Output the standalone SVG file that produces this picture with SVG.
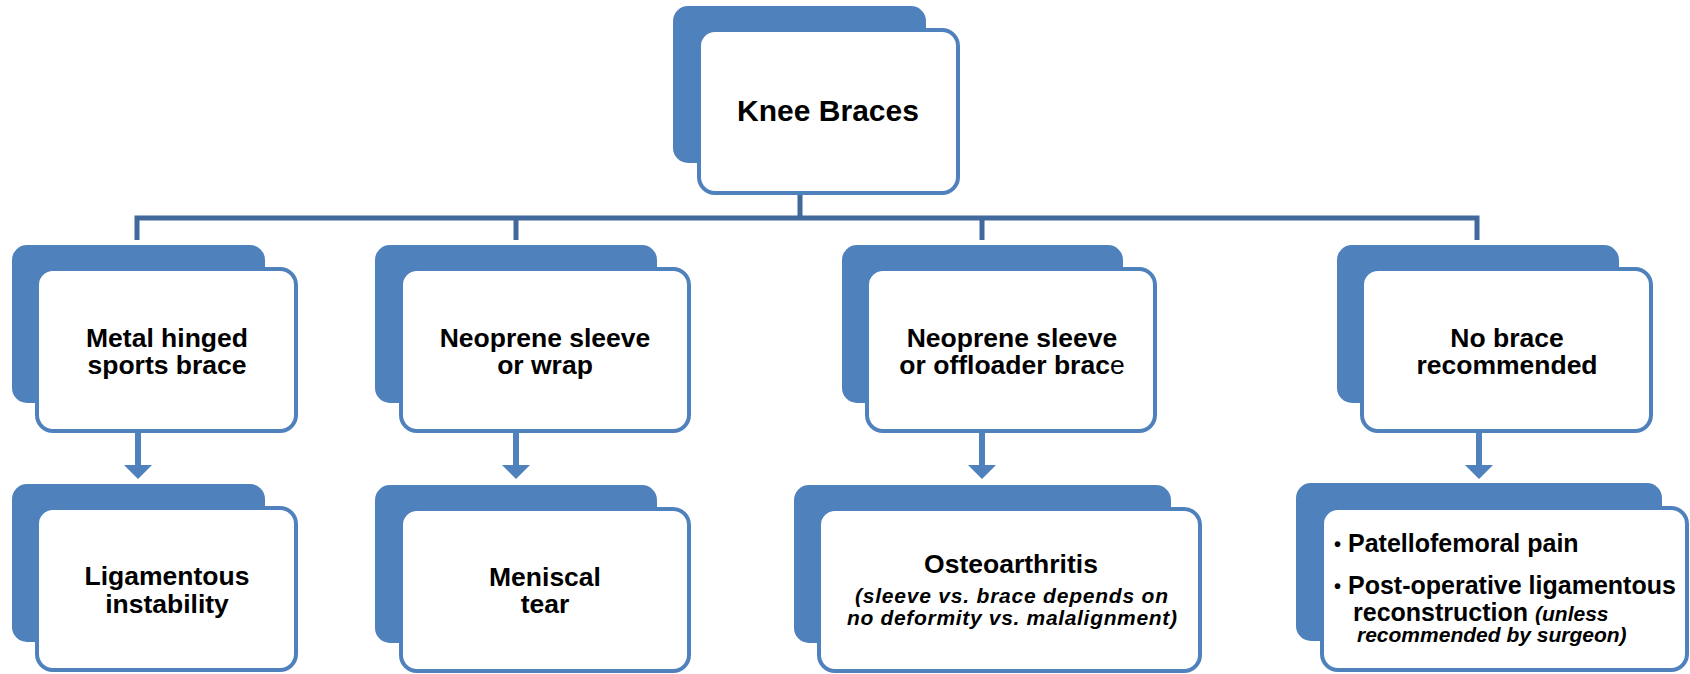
<svg xmlns="http://www.w3.org/2000/svg" width="1690" height="674" viewBox="0 0 1690 674">
<style>
.back{fill:#4f81bd;}
.front{fill:#ffffff;stroke:#4f81bd;stroke-width:4;}
.lbl{font-family:"Liberation Sans",Arial,sans-serif;font-weight:bold;font-size:26.5px;fill:#000;text-anchor:middle;}
.bl{font-family:"Liberation Sans",Arial,sans-serif;font-weight:bold;font-size:25px;fill:#000;text-anchor:start;}
.bul{font-family:"Liberation Sans",Arial,sans-serif;font-weight:bold;font-size:20px;fill:#000;text-anchor:start;}
.it{font-family:"Liberation Sans",Arial,sans-serif;font-weight:bold;font-style:italic;font-size:21px;fill:#000;}
.tree{fill:none;stroke:#41699b;stroke-width:5;}
.arr{stroke:#4f81bd;stroke-width:6;fill:none;}
.head{fill:#4f81bd;}
</style>
<rect width="1690" height="674" fill="#ffffff"/>
<g id="connectors">
<path class="tree" d="M800,195 V218 M137,240 V218 H1477 V240 M516,218 V240 M982,218 V240"/>
<path class="arr" d="M138,433 V466 M516,433 V466 M982,433 V466 M1479,433 V466"/>
<path class="head" d="M124,465 H152 L138,479 Z M502,465 H530 L516,479 Z M968,465 H996 L982,479 Z M1465,465 H1493 L1479,479 Z"/>
</g>
<g id="node-knee-braces">
<rect class="back" x="673" y="6" width="253" height="157" rx="15"/>
<rect class="front" x="699" y="30" width="259" height="163" rx="16"/>
<text class="lbl" x="828" y="121" style="font-size:30px">Knee Braces</text>
</g>
<g id="node-metal-hinged">
<rect class="back" x="12" y="245" width="253" height="158" rx="15"/>
<rect class="front" x="37" y="269" width="259" height="162" rx="16"/>
<text class="lbl" x="167" y="347">Metal hinged</text>
<text class="lbl" x="167" y="374">sports brace</text>
</g>
<g id="node-neoprene-wrap">
<rect class="back" x="375" y="245" width="282" height="158" rx="15"/>
<rect class="front" x="401" y="269" width="288" height="162" rx="16"/>
<text class="lbl" x="545" y="347">Neoprene sleeve</text>
<text class="lbl" x="545" y="374">or wrap</text>
</g>
<g id="node-neoprene-offloader">
<rect class="back" x="842" y="245" width="281" height="158" rx="15"/>
<rect class="front" x="867" y="269" width="288" height="162" rx="16"/>
<text class="lbl" x="1012" y="347">Neoprene sleeve</text>
<text class="lbl" x="1012" y="374">or offloader brac<tspan style="font-weight:normal">e</tspan></text>
</g>
<g id="node-no-brace">
<rect class="back" x="1337" y="245" width="282" height="158" rx="15"/>
<rect class="front" x="1362" y="269" width="289" height="162" rx="16"/>
<text class="lbl" x="1507" y="347">No brace</text>
<text class="lbl" x="1507" y="374">recommended</text>
</g>
<g id="node-ligamentous">
<rect class="back" x="12" y="484" width="253" height="158" rx="15"/>
<rect class="front" x="37" y="508" width="259" height="162" rx="16"/>
<text class="lbl" x="167" y="585">Ligamentous</text>
<text class="lbl" x="167" y="613">instability</text>
</g>
<g id="node-meniscal">
<rect class="back" x="375" y="485" width="282" height="158" rx="15"/>
<rect class="front" x="401" y="509" width="288" height="162" rx="16"/>
<text class="lbl" x="545" y="586">Meniscal</text>
<text class="lbl" x="545" y="613">tear</text>
</g>
<g id="node-osteoarthritis">
<rect class="back" x="794" y="485" width="377" height="158" rx="15"/>
<rect class="front" x="819" y="509" width="381" height="162" rx="16"/>
<text class="lbl" x="1011" y="573">Osteoarthritis</text>
<text class="it" x="855" y="603" textLength="313" lengthAdjust="spacing">(sleeve vs. brace depends on</text>
<text class="it" x="847" y="625" textLength="330" lengthAdjust="spacing">no deformity vs. malalignment)</text>
</g>
<g id="node-patellofemoral">
<rect class="back" x="1296" y="483" width="366" height="158" rx="15"/>
<rect class="front" x="1322" y="508" width="365" height="162" rx="16"/>
<text class="bul" x="1334" y="551">•</text>
<text class="bl" x="1348" y="552">Patellofemoral pain</text>
<text class="bul" x="1334" y="593">•</text>
<text class="bl" x="1348" y="594">Post-operative ligamentous</text>
<text class="bl" x="1353" y="621">reconstruction <tspan class="it">(unless</tspan></text>
<text class="it" x="1357" y="642">recommended by surgeon)</text>
</g>
</svg>
